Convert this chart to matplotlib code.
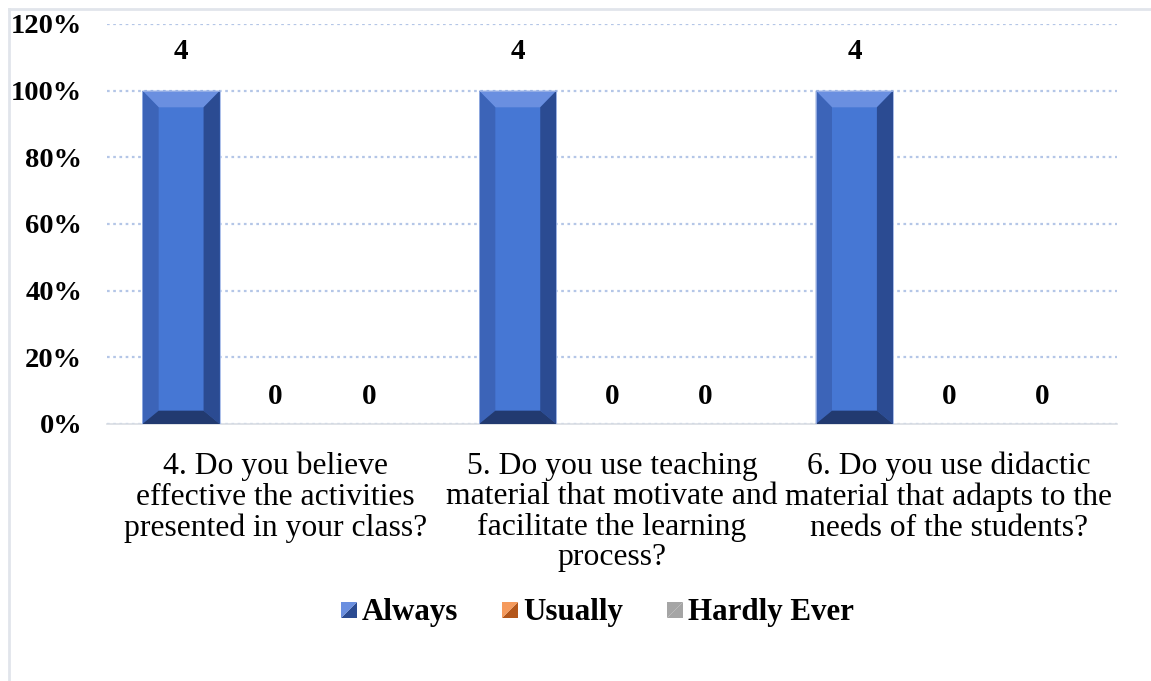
import matplotlib
matplotlib.use("Agg")
import matplotlib.pyplot as plt
from matplotlib.patches import Polygon, Rectangle
from matplotlib.lines import Line2D
from matplotlib.legend_handler import HandlerBase
import numpy as np

plt.rcParams['font.family'] = ['Liberation Serif', 'DejaVu Serif']

# data
questions = ['4. Do you believe\neffective the activities\npresented in your class?',
             '5. Do you use teaching\nmaterial that motivate and\nfacilitate the learning\nprocess?',
             '6. Do you use didactic\nmaterial that adapts to the\nneeds of the students?']
series = ['Always', 'Usually', 'Hardly Ever']
counts = {'Always': [4, 4, 4], 'Usually': [0, 0, 0], 'Hardly Ever': [0, 0, 0]}
percent = {'Always': [100, 100, 100], 'Usually': [0, 0, 0], 'Hardly Ever': [0, 0, 0]}
yticks = [0, 20, 40, 60, 80, 100, 120]

colors = {'Always': '#4677d4', 'Usually': '#ed7d31', 'Hardly Ever': '#a5a5a5'}
bevel_cols = {'Always': ('#6a8fe0', '#3c64b8', '#2b4b92', '#223a70'),
              'Usually': ('#f59a5c', '#d46a22', '#b3561a', '#8e4414'),
              'Hardly Ever': ('#c4c4c4', '#959595', '#808080', '#6a6a6a')}

fig = plt.figure(figsize=(11.51, 6.81), dpi=100)
ax = fig.add_axes([0.093, 0.3774, 0.8775, 0.5874])

x = np.arange(len(questions))
offsets = [-0.28, 0.0, 0.278]
w = 0.23
ax.set_xlim(-0.5, 2.5)
ax.set_ylim(0, 120)

for s, off in zip(series, offsets):
    bars = ax.bar(x + off, percent[s], w, color=colors[s], zorder=3)
    top, left, right, bot = bevel_cols[s]
    for b, c in zip(bars, counts[s]):
        x0, x1 = b.get_x(), b.get_x() + b.get_width()
        y0, y1 = 0, b.get_height()
        if y1 > 0:
            dx = 0.21 * b.get_width()
            dyt, dyb = 5.0, 4.0
            for pts, col in [
                ([(x0, y1), (x1, y1), (x1 - dx, y1 - dyt), (x0 + dx, y1 - dyt)], top),
                ([(x0, y0), (x0, y1), (x0 + dx, y1 - dyt), (x0 + dx, y0 + dyb)], left),
                ([(x1, y0), (x1, y1), (x1 - dx, y1 - dyt), (x1 - dx, y0 + dyb)], right),
                ([(x0, y0), (x1, y0), (x1 - dx, y0 + dyb), (x0 + dx, y0 + dyb)], bot)]:
                ax.add_patch(Polygon(pts, closed=True, facecolor=col, edgecolor='none', zorder=4))
            ax.add_patch(Rectangle((x0, y0), x1 - x0, y1 - y0, fill=False,
                                   edgecolor='#9db4e6', lw=0.6, zorder=5))
        ax.annotate(str(c), (b.get_x() + b.get_width() / 2, y1),
                    xytext=(0, 28 if y1 > 0 else 20), textcoords='offset points',
                    ha='center', va='center', fontsize=21, fontweight='bold', zorder=6)

ax.set_yticks(yticks)
ax.set_yticklabels([f'{t}%' for t in yticks], fontsize=20.5, fontweight='bold')
ax.set_xticks(x)
ax.set_xticklabels(questions, fontsize=22.8, linespacing=1.07, va='top')
ax.tick_params(axis='both', length=0)
ax.tick_params(axis='y', pad=18)
ax.tick_params(axis='x', pad=20)

ax.grid(axis='y', color='#b4c6e7', linestyle=(0, (1.2, 1.6)), lw=1.6, zorder=0)
ax.set_axisbelow(True)
for sp in ['top', 'right', 'left']:
    ax.spines[sp].set_visible(False)
ax.spines['bottom'].set_color('#d9dde3')
ax.spines['bottom'].set_linewidth(1.2)


class BevelHandler(HandlerBase):
    def create_artists(self, legend, orig, xd, yd, width, height, fontsize, trans):
        s = orig.get_label()
        size = 11.5
        cx = xd + width - size
        cy = yd + (height - size) / 2 - 1
        lo = Polygon([(cx, cy), (cx + size, cy), (cx + size, cy + size)], closed=True,
                     facecolor=bevel_cols[s][2], edgecolor='none', transform=trans)
        hi = Polygon([(cx, cy), (cx, cy + size), (cx + size, cy + size)], closed=True,
                     facecolor=bevel_cols[s][0], edgecolor='none', transform=trans)
        if s == 'Hardly Ever':
            lo.set_facecolor(colors[s]); hi.set_facecolor(colors[s])
        return [lo, hi]


handles = [Rectangle((0, 0), 1, 1, label=s) for s in series]
leg = fig.legend(handles, series, loc='center', bbox_to_anchor=(0.519, 0.101), ncol=3,
                 frameon=False, prop={'size': 22.3, 'weight': 'bold'},
                 handler_map={Rectangle: BevelHandler()}, handlelength=0.52,
                 handletextpad=0.18, columnspacing=1.4)

# outer chart frame
fig.add_artist(Line2D([8.5 / 1151, 8.5 / 1151], [0, 1 - 8.5 / 681], color='#e1e5eb', lw=2))
fig.add_artist(Line2D([8.5 / 1151, 1], [1 - 8.5 / 681, 1 - 8.5 / 681], color='#e1e5eb', lw=2))

fig.savefig('out.png', dpi=100)
